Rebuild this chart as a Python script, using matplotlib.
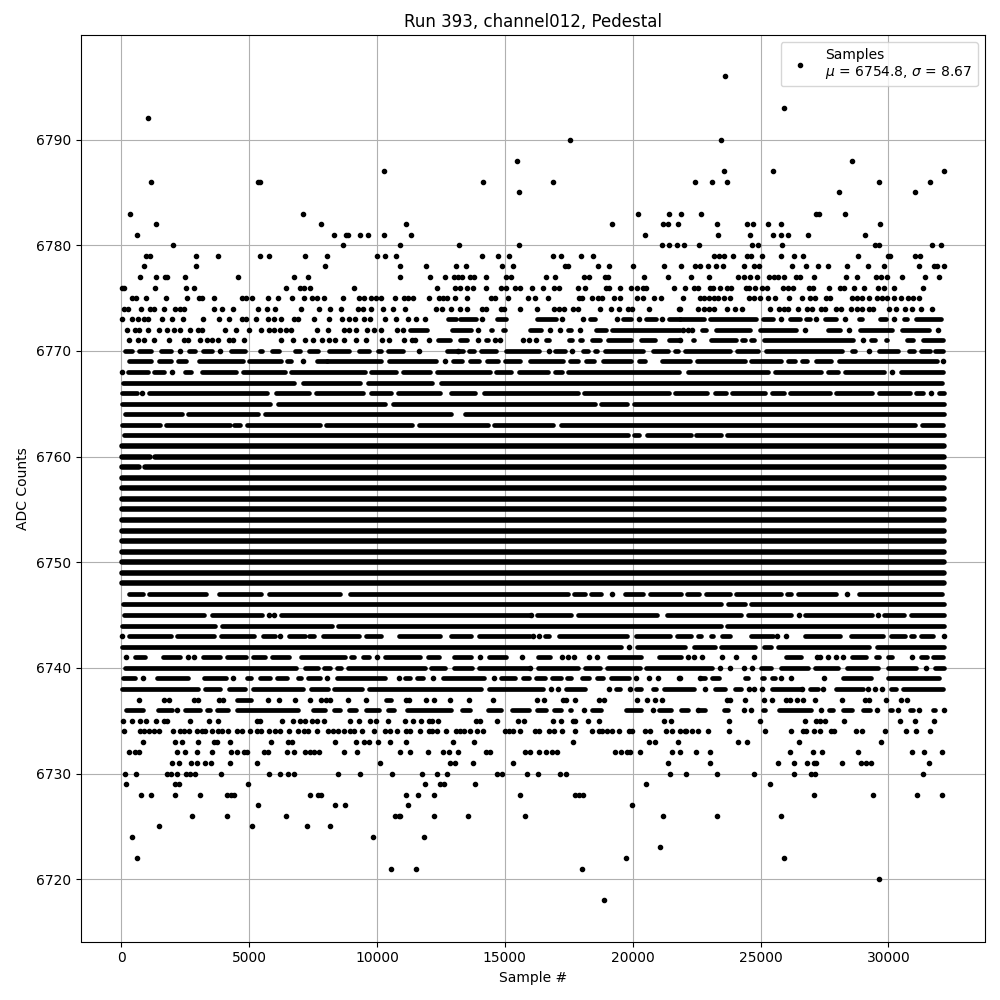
import matplotlib
matplotlib.use("Agg")
import matplotlib.pyplot as plt

RUN = 393
CHANNEL = "channel012"
MEAN = 6754.8
SIGMA = 8.67

# isolated samples, ADC level -> sample numbers
SPARSE = {
    6796: [23602],
    6793: [25910],
    6792: [1031],
    6790: [17538, 23446],
    6788: [15465, 28571],
    6787: [10263, 23563, 25480, 32170],
    6786: [1148, 5334, 5438, 14135, 16873, 22429, 23094, 23681, 29627, 31622],
    6785: [15543, 28062, 31035],
    6783: [327, 7094, 20198, 21411, 21881, 22663, 27162, 27280, 28297],
    6782: [1344, 7798, 11123, 19181, 21176, 21372, 21763, 23289, 24463, 24698, 25284, 25793, 29666],
    6781: [600, 8307, 8776, 8880, 9324, 9637, 10263, 11318, 20472, 23328, 24580, 25480, 25793, 26067, 26849, 29079],
    6780: [2009, 8659, 10889, 13196, 15543, 21137, 21411, 21724, 21998, 22585, 24659, 24893, 25832, 29470, 29627, 31700, 32052],
    6779: [953, 1109, 2908, 3769, 5412, 5764, 7173, 8033, 9990, 10302, 10732, 14096, 14722, 15152, 16873, 17186, 17969, 18438,
           23172, 23368, 23563, 23915, 24463, 24619, 25050, 25793, 26302, 26654, 28805, 29979, 30057, 31035, 31231],
    6778: [874, 2908, 7955, 10889, 11905, 13079, 13470, 14878, 15308, 17343, 17460, 18634, 19064, 20003, 21216, 21881,
           22429, 22624, 22937, 23250, 23524, 24346, 24737, 24932, 26223, 26771, 27240, 27632, 28375, 29197, 29822, 31192, 31778, 31896, 32170],
    6777: [718, 1344, 1696, 1787, 2478, 4551, 6742, 7290, 10889, 12062, 12648, 13000, 13157, 13313, 13626, 13783, 14252, 15035, 15243,
           16600, 16952, 18086, 18282, 18908, 19025, 20433, 21372, 22272, 22976, 24111, 24346, 24580, 24854, 25324, 25519, 25676, 25910,
           26380, 26536, 27084, 28336, 28766, 29510, 29692, 29953, 30527, 31426, 31974],
    6776: [27, 118, 1305, 2517, 2830, 6429, 6977, 7133, 7368, 9090, 12335, 13040, 13235, 13509, 13744, 14252, 14839, 15035, 15387, 15582,
           16052, 16482, 16912, 17108, 17851, 18125, 18947, 19064, 19494, 19925, 20159, 20394, 20511, 21607, 22037, 22390, 22546, 23015,
           23133, 23407, 23681, 23837, 24424, 24541, 24776, 25050, 25245, 25871, 26067, 26262, 26888, 27045, 27671, 28101, 28258, 28649,
           29040, 29588, 29822, 30214, 31348],
    6775: [431, 587, 953, 1735, 2556, 3026, 3143, 3613, 4708, 4864, 5099, 5725, 6116, 6664, 7133, 7446, 7655, 7916, 8659, 9285, 9481,
           9755, 9950, 10146, 10693, 11044, 11201, 11396, 12022, 12414, 12570, 12727, 13040, 13509, 14448, 14604, 15113, 15895, 16169,
           16678, 17890, 18008, 18399, 18634, 18790, 19260, 19494, 20159, 20394, 20824, 21098, 21959, 22624, 22781, 22976, 23172, 23328,
           23563, 23824, 24541, 24737, 24972, 25284, 25558, 26106, 26615, 26927, 27136, 27553, 27710, 28571, 28779, 28975, 29236, 29548,
           29757, 29953, 30214, 30475, 30761, 30957, 31192],
    6774: [118, 248, 757, 1109, 1265, 1657, 2087, 2283, 2439, 3613, 3926, 4356, 5334, 5686, 6000, 7016, 7720, 8150, 8581, 9246, 9442, 9755,
           10224, 10615, 11084, 12296, 12531, 12883, 13235, 13509, 14096, 14252, 14839, 14956, 15582, 16247, 16912, 17108, 17304, 17656,
           17851, 18712, 19142, 19455, 19807, 19964, 20629, 21802, 21868, 22546, 22781, 22976, 23172, 23694, 24020, 24280, 25363, 25715,
           25910, 26067, 26458, 26823, 27019, 27371, 27540, 27945, 28127, 28544, 28753, 28975, 29236, 29405, 30018, 30279, 30644, 30931,
           31257, 31713],
    6773: [27, 431, 640, 874, 1031, 1578, 1970, 2400, 3182, 3808, 4199, 4708, 4864, 5256, 5725, 5960, 6234, 6742, 6899, 7525, 8112, 8620,
           8894, 9129, 9481, 9716, 10302, 10732, 11201, 11514, 11866, 14122, 17225, 18047, 19377, 20238, 21137, 25806, 27162, 28284, 30214],
    6772: [209, 522, 679, 1031, 1461, 1787, 2048, 2283, 2674, 2987, 3143, 4043, 4473, 4982, 5451, 5764, 5960, 6221, 6429, 6625, 7655, 8072,
           8698, 8894, 9168, 9598, 9872, 10146, 10772, 11005, 13939, 16756, 17147, 17956, 21959, 22155, 22324, 26719, 28453, 31935],
    6771: [287, 640, 874, 1265, 1878, 2439, 2596, 3065, 3352, 3535, 3769, 4199, 4356, 4786, 6234, 6703, 7173, 7486, 7837, 8112, 8346, 8698,
           9168, 9559, 10185, 10459, 11044, 11370, 11501, 12022, 13939, 14604, 14800, 15713, 15934, 16208, 21868, 29001],
    6770: [2282, 3860, 11645, 13171, 16717, 17643, 29249],
    6769: [7120, 12650, 32130],
    6768: [13, 1996, 30122],
    6766: [796, 31648],
    6747: [19208, 28362],
    6745: [5764, 5986, 16039, 26510, 29588],
    6743: [39, 6221, 16104, 16326, 25650, 26015, 32170],
    6742: [19873],
    6741: [170, 2595, 2830, 10002, 14018, 15674, 17239, 17460, 17721, 18282, 18608, 22155, 22416, 22703, 23498, 24033, 24763, 27632, 27932,
           28218, 30931, 27189, 27319],
    6740: [23433, 23824, 24346, 24672, 31478, 16000],
    6739: [835, 4369, 8046, 10876, 12192, 14565, 20146, 20628, 20981, 21802, 22624, 21868, 25819, 26210, 27501],
    6738: [16808, 17069, 19064, 19885, 22820, 24541, 24763, 25063, 26628, 27449, 29197, 29470, 29757],
    6737: [679, 1657, 1852, 2830, 2987, 3808, 3965, 5738, 6155, 6781, 7368, 7799, 8020, 8176, 8855, 9559, 11123, 11240, 11905, 12218, 12844,
           13587, 14526, 16260, 16521, 17264, 17408, 17734, 18673, 18868, 20159, 20551, 20863, 21150, 23694, 23824, 24411, 25128, 25454,
           25976, 26145, 26419, 26654, 27123, 28179, 29079, 29236, 29901, 30488, 30722],
    6736: [2178, 18086, 20785, 22559, 24346, 24620, 27371, 29562, 30370, 31179, 32170],
    6735: [53, 405, 718, 953, 1344, 1657, 1787, 2674, 3417, 3769, 5295, 5412, 6273, 6703, 6977, 7199, 7460, 7655, 7916, 8933, 9285, 9716, 9950,
           10420, 11084, 11396, 11709, 12022, 12153, 12374, 13861, 14044, 14683, 15504, 15739, 16873, 17186, 17656, 17760, 18242, 18699,
           21216, 21489, 23759, 24972, 26732, 27188, 27318, 27514, 28258, 30448, 31035, 31778],
    6734: [92, 718, 874, 1070, 1265, 1461, 2009, 2309, 2439, 2635, 2961, 3156, 3287, 3547, 3769, 3939, 4160, 4525, 4721, 5021, 5308, 5477, 5764,
           6025, 6221, 6546, 6899, 7133, 7290, 7668, 8085, 8268, 8464, 8698, 8933, 9090, 9402, 9898, 10328, 10524, 10772, 11149, 11305, 11670,
           12022, 12153, 12348, 12687, 13079, 13235, 13418, 13652, 13900, 14135, 14996, 15152, 15309, 15582, 16195, 16352, 16717, 16912,
           17225, 17734, 18399, 18673, 18816, 19000, 19208, 19455, 19846, 19977, 20472, 20668, 21320, 21542, 21842, 22076, 22324, 22546,
           22064, 22937, 23759, 25167, 26184, 26667, 26797, 27084, 27319, 27736, 27866, 28727, 28975, 29862, 30683, 31074, 31622],
    6733: [835, 2087, 2361, 2987, 3613, 3743, 4265, 5842, 6507, 6677, 8346, 9168, 9481, 9676, 10028, 10498, 11123, 12961, 13783, 17656, 20628,
           20890, 21763, 24111, 24463, 26497, 29705],
    6732: [287, 548, 679, 2165, 2478, 2948, 3534, 4278, 4512, 4786, 4917, 5568, 5738, 6468, 6742, 7199, 7368, 7525, 7720, 8698, 9207, 10889,
           11279, 11983, 12570, 12805, 13157, 14278, 14409, 15778, 15973, 16326, 16600, 16860, 17043, 19299, 19534, 19781, 19912, 20277,
           21542, 21842, 22467, 23015, 26145, 27045, 27397, 28805, 30918, 31387, 32105],
    6731: [1970, 2243, 2713, 2948, 3287, 3508, 4238, 5295, 10107, 12844, 13040, 13744, 15309, 21372, 23015, 25676, 26302, 26810, 27084, 27188,
           28179, 28923, 29118, 29301, 31583],
    6730: [131, 561, 1774, 1931, 2165, 2543, 2674, 2869, 3886, 5764, 6195, 6507, 6742, 8463, 9324, 10576, 11749, 12335, 12727, 14683, 14878,
           15856, 16286, 17147, 17382, 21450, 22076, 23289, 24737, 26302, 26954, 27149, 31348],
    6729: [170, 2087, 2256, 4943, 11866, 12453, 12609, 13822, 20511, 25363],
    6728: [757, 1148, 2087, 3065, 4121, 4291, 4395, 7368, 7694, 7824, 11123, 11592, 12218, 15582, 17734, 17890, 18047, 27084, 29392, 31113, 32091],
    6727: [5334, 8346, 8737, 11201, 19964],
    6726: [2752, 4121, 6429, 10719, 10850, 10914, 12218, 13548, 15778, 21176, 23289, 25793],
    6725: [1461, 5099, 7251, 8151],
    6724: [405, 9833, 11827],
    6723: [21059],
    6722: [600, 19729, 25910],
    6721: [10537, 11514, 18008],
    6720: [29627],
    6718: [18868],
}

# inside the band the dots merge, so only the runs of merged samples can be read
# ADC level -> (first sample, last sample) of each run
RUNS = {
    6773: [(12766, 13079), (13235, 13861), (14696, 15035), (16247, 16990), (18321, 18516), (19612, 19925), (20511, 20903), (21411, 21868),
           (21868, 22781), (23015, 24841), (25089, 25493), (26158, 26536), (26784, 26927), (27540, 27932), (28844, 28975), (29653, 29888),
           (30605, 30735), (31061, 32052)],
    6772: [(11292, 11970), (12935, 13691), (14461, 14513), (14917, 15022), (15987, 16430), (17486, 17578), (18568, 18972), (19194, 21868),
           (22716, 22885), (23263, 24580), (24985, 26406), (27645, 28101), (28870, 30122), (30540, 31583)],
    6771: [(12388, 12844), (13248, 13535), (14265, 14344), (16612, 16717), (17499, 17630), (17930, 18021), (18412, 18712), (19025, 19951),
           (20329, 20863), (21411, 21868), (22350, 22403), (23068, 24059), (24280, 24385), (24632, 24750), (25154, 28623), (29327, 29470),
           (29914, 29927), (30722, 30970), (31348, 32144)],
    6770: [(131, 418), (678, 1148), (1539, 1930), (2660, 2869), (3208, 3547), (4277, 4851), (5425, 5503), (5894, 6155), (6781, 6990), (7355, 7694),
           (8137, 8894), (9285, 9676), (10041, 10172), (10419, 11032), (12753, 13366), (13588, 13797), (14057, 14657), (15048, 16326),
           (16978, 17369), (18047, 18256), (18517, 18595), (18908, 20408), (20812, 21386), (21646, 21777), (22064, 23811), (24072, 24906),
           (25219, 28192), (28558, 28688), (29627, 30383), (30800, 31009), (31270, 31609), (31817, 32144)],
    6769: [(313, 1148), (1487, 1956), (2204, 2543), (3052, 4760), (4982, 6260), (6468, 6651), (7668, 8059), (8059, 10172), (10484, 12323),
           (12988, 13327), (13627, 13979), (14318, 14723), (14996, 15596), (16000, 17278), (17552, 17865), (18178, 18491), (18856, 19951),
           (20238, 20499), (21151, 22233), (22507, 24385), (24632, 25793), (26067, 26341), (26628, 26810), (27175, 27749), (28062, 31896)],
    6768: [(248, 1044), (1278, 1669), (2478, 2713), (3156, 4486), (4747, 6390), (6625, 9520), (9767, 10758), (11032, 12062), (12336, 14410),
           (14657, 15231), (15570, 16691), (16952, 17239), (17460, 21803), (22155, 25272), (25558, 27358), (27619, 28010), (28297, 29835),
           (30487, 32144)],
    6767: [(52, 6755), (7094, 9350), (9637, 12154), (12493, 32079)],
    6766: [(13, 626), (1096, 5712), (6051, 7355), (7616, 9454), (9767, 10563), (10824, 12454), (12884, 13823), (14175, 17865), (18112, 21412),
           (21672, 22924), (23211, 23654), (23889, 25167), (25454, 25923), (26158, 27710), (27958, 29340), (29627, 30853), (31087, 31348),
           (31974, 32170)],
    6765: [(13, 5803), (6116, 10328), (10641, 18517), (18764, 19795), (20042, 32170)],
    6764: [(157, 2374), (2608, 5347), (5608, 12884), (13458, 32170)],
    6763: [(13, 1500), (1748, 4238), (4421, 4643), (4903, 7772), (8007, 11371), (11632, 14344), (14592, 16900), (17200, 31035), (31322, 32144)],
    6762: [(92, 19821), (20068, 20251), (20551, 22272), (22481, 23472), (23707, 32170)],
    6761: [(13, 32170)],
    6760: [(13, 1109), (1300, 32170)],
    6759: [(13, 678), (917, 32170)],
    6758: [(13, 32170)],
    6757: [(13, 32170)],
    6756: [(13, 32170)],
    6755: [(13, 32170)],
    6754: [(13, 32170)],
    6753: [(13, 32170)],
    6752: [(13, 32170)],
    6751: [(13, 32170)],
    6750: [(13, 32170)],
    6749: [(13, 32170)],
    6748: [(13, 32170)],
    6747: [(287, 848), (1070, 3326), (3808, 5477), (5790, 8541), (8959, 17474), (17721, 18126), (18386, 18751), (19716, 20408), (20681, 21907),
           (22142, 22585), (22872, 23798), (24046, 25819), (26028, 26184), (26458, 27932), (28844, 32079)],
    6746: [(52, 23472), (23733, 24385), (24632, 32170)],
    6745: [(92, 3234), (3547, 5503), (6247, 16000), (16274, 17604), (17852, 20968), (21333, 24254), (24502, 26210), (26719, 29340), (29809, 30618),
           (30866, 32170)],
    6744: [(13, 3677), (3938, 8242), (8477, 23472), (23707, 32170)],
    6743: [(313, 1956), (2191, 3625), (3899, 5190), (5555, 5999), (6546, 7172), (7355, 7538), (7876, 9285), (9572, 10145), (10850, 12454),
           (12910, 13666), (14005, 16000), (16587, 16717), (17108, 19782), (20134, 21451), (21725, 22272), (22546, 22690), (23068, 23146),
           (23498, 23798), (24632, 25493), (26758, 28101), (28544, 29796), (30109, 30644), (30892, 31009), (31283, 31753)],
    6742: [(13, 19560), (20160, 22037), (22403, 23211), (23472, 24776), (25154, 25428), (25689, 29236), (29548, 32170)],
    6741: [(522, 913), (1617, 2282), (3208, 3847), (4121, 4890), (5138, 5607), (5894, 6546), (7042, 8737), (8984, 9102), (9441, 9676), (10328, 11671),
           (11984, 12414), (13014, 13692), (14397, 15062), (16287, 16756), (19064, 20342), (21047, 21907), (26002, 26575), (28584, 29105),
           (29523, 29627), (29979, 30122), (31283, 31492), (31740, 32144)],
    6740: [(157, 6820), (7172, 7694), (7916, 8150), (8424, 8607), (8854, 11867), (12128, 12675), (13014, 13718), (14005, 16000), (16287, 17865),
           (18126, 18712), (18986, 20277), (20525, 23107), (25024, 25402), (25806, 26862), (27149, 28036), (28375, 29601), (29992, 31061),
           (31805, 32170)],
    6739: [(53, 548), (1383, 2608), (3221, 4108), (4904, 5060), (5425, 5816), (6103, 6468), (6899, 7042), (7290, 7760), (8424, 10302), (11097, 11279),
           (11553, 11801), (12570, 14187), (14865, 15413), (15726, 15934), (16221, 16586), (16847, 17212), (17421, 17577), (18021, 18282),
           (18595, 18829), (19155, 19846), (22676, 22820), (23107, 23368), (24411, 24515), (25063, 25141), (25454, 25558), (28218, 29314),
           (29979, 31974)],
    6738: [(27, 3000), (3260, 3847), (4199, 4851), (5164, 7107), (7407, 8085), (8333, 9416), (9676, 14057), (14370, 16495), (17395, 18125),
           (19351, 19494), (20133, 20342), (20785, 20929), (21216, 22390), (23211, 23602), (23993, 24254), (25454, 26602), (26915, 27253),
           (27958, 29014), (30109, 30279), (30566, 32144)],
    6737: [(4525, 5086), (10354, 10563)],
    6736: [(183, 848), (1422, 1983), (2491, 3065), (3339, 3456), (3743, 4173), (4512, 6912), (7486, 7955), (8333, 8542), (8920, 9194), (9572, 10080),
           (10420, 10667), (11188, 12909), (13326, 13626), (14330, 14865), (15282, 15934), (16247, 16626), (16938, 17212), (17551, 17604),
           (18412, 18751), (19742, 20342), (21046, 21515), (21894, 22168), (22637, 22820), (23589, 23733), (25089, 25193), (25741, 26967),
           (27671, 27840), (28218, 28583), (29001, 29275), (30044, 30122), (30827, 30970), (31739, 31817)],
}


def build_chart():
    fig, ax = plt.subplots(figsize=(10, 10))

    for level, runs in RUNS.items():
        # scalloped edges of loosely merged dots read thinner than the solid rows
        width = 4 if 6748 <= level <= 6761 else 3.4
        for first, last in runs:
            ax.plot([first, last], [level, level], color="black", linewidth=width, solid_capstyle="round")

    xs = [x for level in SPARSE for x in SPARSE[level]]
    ys = [level for level in SPARSE for x in SPARSE[level]]
    label = f"Samples\n$\\mu$ = {MEAN}, $\\sigma$ = {SIGMA}"
    ax.plot(xs, ys, "k.", label=label)

    ax.set_title(f"Run {RUN}, {CHANNEL}, Pedestal")
    ax.set_xlabel("Sample #")
    ax.set_ylabel("ADC Counts")
    ax.grid(True)
    ax.legend(loc="upper right")

    fig.subplots_adjust(left=0.0805, right=0.985, top=0.965, bottom=0.0585)
    fig.savefig("out.png", dpi=100)
    plt.close(fig)


if __name__ == "__main__":
    build_chart()
